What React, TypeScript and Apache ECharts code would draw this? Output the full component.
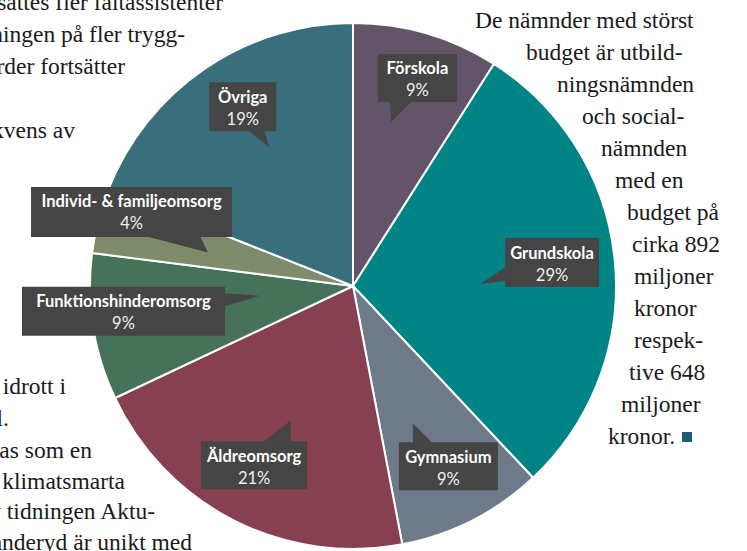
import React, { useEffect, useRef } from "react";
import * as echarts from "echarts";

// ---- data ----
const categories = [
  "Förskola",
  "Grundskola",
  "Gymnasium",
  "Äldreomsorg",
  "Funktionshinderomsorg",
  "Individ- & familjeomsorg",
  "Övriga",
];
const shares = [9, 29, 9, 21, 9, 4, 19];

// ---- styles ----
const sliceColors = ["#64546a", "#008486", "#6e7a8a", "#874050", "#47725a", "#7f8c6c", "#396e7c"];
const W = 747;
const H = 551;
const CX = 353;
const CY = 286;
const R = 263;

// callout layout: box centre in polar terms relative to slice mid-angle,
// box size, and tail triangle relative to the box centre
const calloutLayout = [
  { dA: 1.0, rf: 0.828, w: 79, h: 48, tail: [[-27.5, 23], [-5.5, 23], [-26.5, 44]] },
  { dA: -1.3, rf: 0.762, w: 94, h: 49, tail: [[-46, 4.2], [-46, 18.2], [-72, 21.5]] },
  { dA: -0.9, rf: 0.775, w: 99, h: 48, tail: [[-35.5, -23], [-15.5, -23], [-35.5, -43]] },
  { dA: 1.9, rf: 0.778, w: 106, h: 48, tail: [[8.7, -23], [36.7, -23], [36.7, -45]] },
  { dA: 2.7, rf: 0.878, w: 203, h: 49, tail: [[100.5, -18.2], [100.5, -4.8], [136.5, -15.5]] },
  { dA: 4.1, rf: 0.888, w: 201, h: 50, tail: [[13.5, 24], [68.5, 24], [76.5, 40.7]] },
  { dA: 2.6, rf: 0.8, w: 67, h: 49, tail: [[5.5, 23.5], [21.5, 23.5], [26.5, 40.5]] },
];

// surrounding article text (prose around the figure)
const rightText = [
  "De nämnder med störst",
  "budget är utbild-",
  "ningsnämnden",
  "och social-",
  "nämnden",
  "med en",
  "budget på",
  "cirka 892",
  "miljoner",
  "kronor",
  "respek-",
  "tive 648",
  "miljoner",
  "kronor.",
];
const rightTextX = [475, 526, 557, 582, 601, 615, 627, 632, 634, 634, 634, 629, 621, 608];

const leftText = [
  "insättes fler fältassistenter",
  "satsningen på fler trygg-",
  "hetsvärder fortsätter",
  "frekvens av",
  "och idrott i",
  "l.",
  "räknas som en",
  "mest klimatsmarta",
  "av tidningen Aktu-",
  "Danderyd är unikt med",
];
const leftTextRight = [223, 185, 125, 75, 66, 9, 92, 125, 155, 192];
const leftTextBaseline = [9, 41, 73, 137, 393, 425, 457, 488, 518, 549];

const SERIF = "'Liberation Serif', 'Times New Roman', serif";
const LABEL_FONT = "Lato, 'Open Sans', sans-serif";

export default function App() {
  const ref = useRef<HTMLDivElement>(null);

  useEffect(() => {
    if (!ref.current) return;
    const chart = echarts.init(ref.current, null, { renderer: "svg", width: W, height: H });
    const total = shares.reduce((a, b) => a + b, 0);

    const graphics: any[] = [];

    // callouts derived from slice angles
    let cum = 0;
    shares.forEach((v, i) => {
      const mid = ((cum + v / 2) / total) * 360;
      cum += v;
      const L = calloutLayout[i];
      const th = ((mid + L.dA) * Math.PI) / 180;
      const bx = CX + L.rf * R * Math.sin(th);
      const by = CY - L.rf * R * Math.cos(th);
      const top = by - L.h / 2;
      graphics.push({
        type: "polygon",
        z: 10,
        shape: { points: L.tail.map((p) => [bx + p[0], by + p[1]]) },
        style: { fill: "#454545" },
      });
      graphics.push({
        type: "rect",
        z: 10,
        shape: { x: bx - L.w / 2, y: top, width: L.w, height: L.h },
        style: { fill: "#454545" },
      });
      graphics.push({
        type: "text",
        z: 11,
        x: bx,
        y: top + 14.5,
        style: {
          text: categories[i],
          fill: "#ffffff",
          fontFamily: LABEL_FONT,
          fontWeight: "bold",
          fontSize: 16.5,
          align: "center",
          verticalAlign: "middle",
          textAlign: "center",
          textVerticalAlign: "middle",
        },
      });
      graphics.push({
        type: "text",
        z: 11,
        x: bx,
        y: top + 36.5,
        style: {
          text: Math.round((v / total) * 100) + "%",
          fill: "#f0f0f0",
          fontFamily: LABEL_FONT,
          fontSize: 16.5,
          align: "center",
          verticalAlign: "middle",
          textAlign: "center",
          textVerticalAlign: "middle",
        },
      });
    });

    // article text
    rightText.forEach((t, i) => {
      graphics.push({
        type: "text",
        z: 5,
        x: rightTextX[i],
        y: 27 + i * 32 - 7,
        style: {
          text: t,
          fill: "#1a1a1a",
          fontFamily: SERIF,
          fontSize: 23.5,
          align: "left",
          verticalAlign: "middle",
          textAlign: "left",
          textVerticalAlign: "middle",
        },
      });
    });
    graphics.push({
      type: "rect",
      z: 5,
      shape: { x: 682, y: 432, width: 10, height: 10 },
      style: { fill: "#1b5a7b" },
    });
    leftText.forEach((t, i) => {
      graphics.push({
        type: "text",
        z: 1,
        x: leftTextRight[i],
        y: leftTextBaseline[i] - 7,
        style: {
          text: t,
          fill: "#1a1a1a",
          fontFamily: SERIF,
          fontSize: 23.5,
          align: "right",
          verticalAlign: "middle",
          textAlign: "right",
          textVerticalAlign: "middle",
        },
      });
    });

    chart.setOption({
      animation: false,
      backgroundColor: "#ffffff",
      series: [
        {
          type: "pie",
          z: 3,
          center: [CX, CY],
          radius: R,
          startAngle: 90,
          clockwise: true,
          silent: true,
          label: { show: false },
          labelLine: { show: false },
          itemStyle: { borderColor: "#ffffff", borderWidth: 2 },
          data: categories.map((n, i) => ({
            name: n,
            value: shares[i],
            itemStyle: { color: sliceColors[i] },
          })),
        },
      ],
      graphic: { elements: graphics },
    });

    return () => chart.dispose();
  }, []);

  return (
    <div
      ref={ref}
      style={{ position: "fixed", left: 0, top: 0, width: W, height: H, background: "#fff" }}
    />
  );
}
